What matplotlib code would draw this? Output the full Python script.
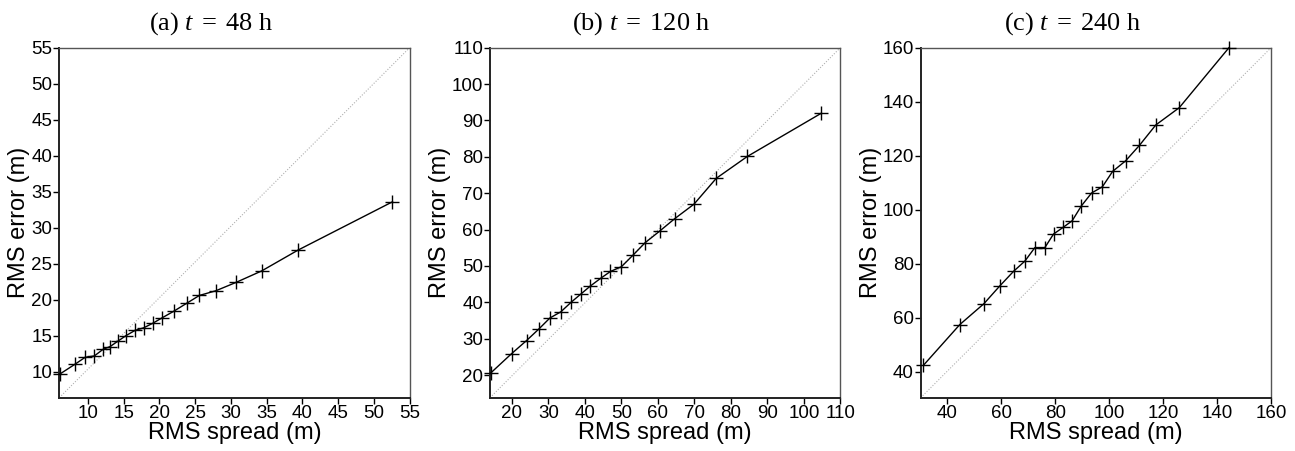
import numpy as np
import matplotlib
matplotlib.use("Agg")
import matplotlib.pyplot as plt

plt.rcParams['font.family'] = ['Liberation Sans', 'DejaVu Sans']
plt.rcParams['mathtext.fontset'] = 'custom'
plt.rcParams['mathtext.rm'] = 'Liberation Serif'
plt.rcParams['mathtext.it'] = 'Liberation Serif:italic'

# RMS spread / RMS error pairs
spread_48 = [6.1, 8.2, 9.6, 10.9, 12.1, 13.1, 14.2, 15.3, 16.6, 17.8, 19.1, 20.4,
             22.0, 23.8, 25.6, 27.9, 30.7, 34.3, 39.4, 52.6]
error_48 = [9.7, 11.05, 12.0, 12.2, 13.1, 13.5, 14.25, 15.0, 15.75, 16.1, 16.75, 17.5,
            18.4, 19.5, 20.6, 21.25, 22.4, 24.0, 26.9, 33.6]

spread_120 = [14.2, 19.9, 24.0, 27.4, 30.4, 33.4, 36.3, 38.9, 41.5, 44.3, 47.0, 50.0,
              53.1, 56.5, 60.5, 64.6, 69.9, 76.0, 84.5, 104.8]
error_120 = [20.6, 25.9, 29.5, 32.7, 35.7, 37.4, 40.1, 42.3, 44.5, 46.6, 48.5, 49.8,
             52.9, 56.4, 59.6, 63.0, 67.0, 74.1, 80.1, 92.0]

spread_240 = [31.2, 44.7, 53.6, 59.5, 64.6, 68.8, 72.5, 76.2, 79.4, 83.0, 86.3, 89.7,
              93.5, 97.5, 101.3, 106.1, 111.2, 117.3, 126.0, 144.4]
error_240 = [42.4, 57.5, 65.2, 71.8, 77.2, 81.0, 86.0, 86.0, 91.0, 93.5, 95.9, 101.4,
             106.2, 108.5, 114.2, 118.1, 123.8, 131.4, 137.8, 160.0]

titles = [r'(a) $t\;=\;48$ h', r'(b) $t\;=\;120$ h', r'(c) $t\;=\;240$ h']
xlims = [(6, 55), (14, 110), (30.2, 160)]
ylims = [(6.4, 55), (13.8, 110), (30.4, 160)]
ticks = [np.arange(10, 56, 5), np.arange(20, 111, 10), np.arange(40, 161, 20)]
ylabel_x = [-0.084, -0.111, -0.110]

fig = plt.figure(figsize=(12.95, 4.51), dpi=100)
lefts = [0.0458, 0.3784, 0.7110]
data = [(spread_48, error_48), (spread_120, error_120), (spread_240, error_240)]

for i in range(3):
    ax = fig.add_axes([lefts[i], 0.1182, 0.2705, 0.776])
    xs, ys = data[i]
    # diagonal reference line
    ax.plot([0, 1], [0, 1], transform=ax.transAxes, color='#b0b0b0',
            lw=0.8, ls=(0, (1, 1.5)))
    ax.plot(xs, ys, color='black', lw=1.0, marker='+', ms=10, mew=1.0,
            clip_on=False, zorder=3)
    ax.set_xlim(xlims[i])
    ax.set_ylim(ylims[i])
    ax.set_xticks(ticks[i])
    ax.set_yticks(ticks[i])
    ax.tick_params(direction='out', length=4, width=1, labelsize=13.5, pad=1)
    for s in ['left', 'bottom']:
        ax.spines[s].set_linewidth(1.4)
        ax.spines[s].set_color('#222222')
    for s in ['top', 'right']:
        ax.spines[s].set_linewidth(1.0)
        ax.spines[s].set_color('#555555')
    ax.set_xlabel('RMS spread (m)', fontsize=17, labelpad=0)
    ax.set_ylabel('RMS error (m)', fontsize=17)
    ax.yaxis.set_label_coords(ylabel_x[i], 0.5)
    ax.set_title(titles[i], fontsize=19, pad=13, x=0.432,
                 fontfamily='Liberation Serif')

fig.savefig('out.png', dpi=100)
